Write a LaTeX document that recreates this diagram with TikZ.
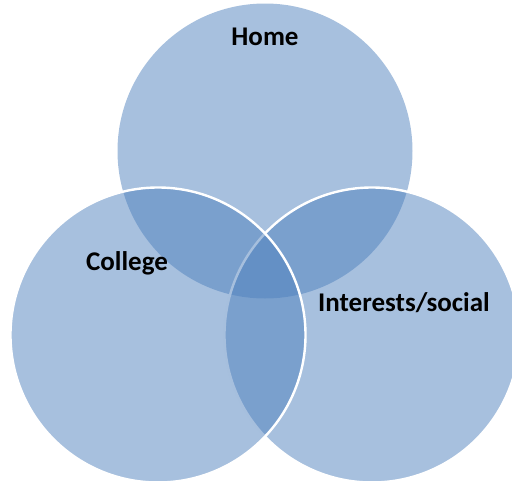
\documentclass[tikz,border=0pt]{standalone}
\usepackage{fontspec}
\setmainfont{Carlito}
\definecolor{setblue}{HTML}{4F81BD}
\begin{document}
\begin{tikzpicture}[x=1pt, y=-1pt,
    setcircle/.style={circle, minimum size=295pt, inner sep=0pt, fill=setblue, fill opacity=0.5, draw=white, line width=2.4pt},
    setlabel/.style={font=\fontsize{27}{32}\selectfont\bfseries, text=black, inner sep=0pt}]
  \useasboundingbox (0,0) rectangle (512,480);
  \clip (0,0) rectangle (512,480);
  % the three sets
  \node[setcircle, draw=none] (home) at (265,151) {};
  \node[setcircle] (interests) at (372,335) {};
  \node[setcircle] (college) at (158,335) {};
  % labels
  \node[setlabel] (homelabel) at (265,37) {Home};
  \node[setlabel] (collegelabel) at (127,263) {College};
  \node[setlabel] (interestslabel) at (404,303) {Interests/social};
\end{tikzpicture}
\end{document}
